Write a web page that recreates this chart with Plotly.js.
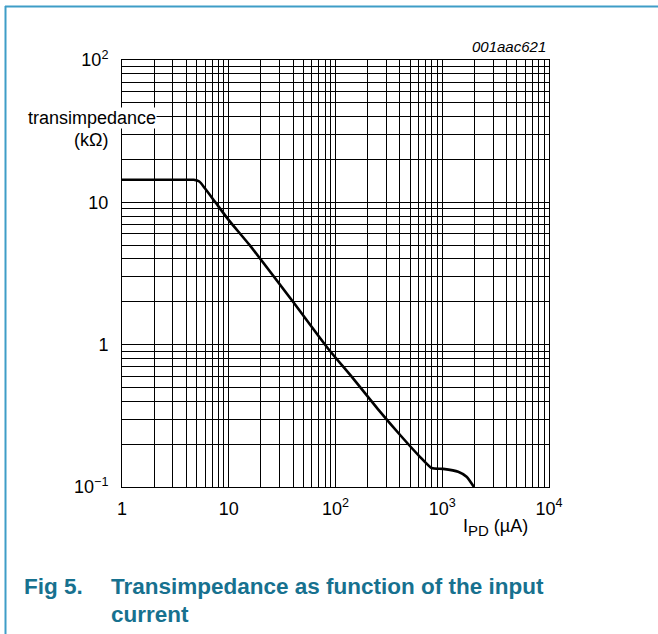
<!DOCTYPE html>
<html>
<head>
<meta charset="utf-8">
<script src="https://cdn.plot.ly/plotly-3.0.1.min.js"></script>
<style>
html,body{margin:0;padding:0;background:#fff;}
#chart{width:658px;height:634px;}
</style>
</head>
<body>
<div id="chart"></div>
<script>
// Input current I_PD (µA)
const currentUA = [1, 2, 3, 4, 4.7, 5.3, 6, 7.5, 10, 15.7, 40, 85, 146, 260, 405, 618, 795, 1020, 1410, 1690, 1980];
// Transimpedance (kΩ)
const transimpedanceK = [14.4, 14.4, 14.4, 14.4, 14.4, 14.0, 12.5, 10.0, 7.5, 5.0, 2.0, 0.94, 0.58, 0.34, 0.231, 0.163, 0.136, 0.134, 0.128, 0.118, 0.1];

const xTickVals = [1, 10, 100, 1000, 10000];
const xTickText = ['1', '10', '10<sup>2</sup>', '10<sup>3</sup>', '10<sup>4</sup>'];
const yTickVals = [0.1, 1, 10, 100];
const yTickText = ['10<sup>−1</sup>', '1', '10', '10<sup>2</sup>'];

const FONT = 'Liberation Sans, Arial, sans-serif';
const L = 122, R = 109, T = 60, B = 147, W = 658, H = 634;
const PW = W - L - R, PH = H - T - B;
const px = v => (v - L) / PW;
const py = v => (H - B - v) / PH;
const frameColor = '#3f9dc7';
const titleColor = '#17718f';

const trace = {
  x: currentUA, y: transimpedanceK,
  type: 'scatter', mode: 'lines',
  line: {color: '#000', width: 2.6, shape: 'spline', smoothing: 0.6},
  hoverinfo: 'skip'
};

const gridMinor = {dtick: 'D1', showgrid: true, gridcolor: '#000', gridwidth: 1, ticks: ''};

const layout = {
  width: W, height: H,
  margin: {l: L, r: R, t: T, b: B, pad: 0},
  paper_bgcolor: '#fff', plot_bgcolor: '#fff',
  showlegend: false,
  font: {family: FONT, size: 18, color: '#000'},
  xaxis: {
    type: 'log', range: [0, 4], tickvals: xTickVals, ticktext: xTickText,
    showgrid: true, gridcolor: '#000', gridwidth: 1,
    minor: gridMinor,
    showline: true, mirror: true, linecolor: '#000', linewidth: 1,
    ticks: '', ticklabelstandoff: 5, zeroline: false,
    tickfont: {family: FONT, size: 18, color: '#000'}
  },
  yaxis: {
    type: 'log', range: [-1, 2], tickvals: yTickVals, ticktext: yTickText,
    showgrid: true, gridcolor: '#000', gridwidth: 1,
    minor: gridMinor,
    showline: true, mirror: true, linecolor: '#000', linewidth: 1,
    ticks: '', ticklabelstandoff: 9, zeroline: false,
    tickfont: {family: FONT, size: 18, color: '#000'}
  },
  shapes: [
    {type: 'line', xref: 'paper', yref: 'paper', x0: px(5), x1: px(660), y0: py(6.5), y1: py(6.5),
     line: {color: frameColor, width: 2}},
    {type: 'line', xref: 'paper', yref: 'paper', x0: px(5.5), x1: px(5.5), y0: py(6), y1: py(636),
     line: {color: frameColor, width: 2}}
  ],
  annotations: [
    {xref: 'paper', yref: 'paper', x: px(548), y: py(47), xanchor: 'right', yanchor: 'middle',
     text: '<i>001aac621</i>', showarrow: false, font: {family: FONT, size: 15, color: '#000'}},
    {xref: 'paper', yref: 'paper', x: px(157), y: py(118), xanchor: 'right', yanchor: 'middle',
     text: 'transimpedance', showarrow: false, bgcolor: '#fff', borderpad: 0,
     font: {family: FONT, size: 18, color: '#000'}},
    {xref: 'paper', yref: 'paper', x: px(91), y: py(140), xanchor: 'center', yanchor: 'middle',
     text: '(kΩ)', showarrow: false, font: {family: FONT, size: 18, color: '#000'}},
    {xref: 'paper', yref: 'paper', x: px(495), y: py(527), xanchor: 'center', yanchor: 'middle',
     text: 'I<sub><span style="font-size:15px">PD</span></sub> (µA)', showarrow: false,
     font: {family: FONT, size: 18, color: '#000'}},
    {xref: 'paper', yref: 'paper', x: px(22), y: py(586), xanchor: 'left', yanchor: 'middle',
     text: '<b>Fig 5.</b>', showarrow: false, font: {family: FONT, size: 22.5, color: titleColor}},
    {xref: 'paper', yref: 'paper', x: px(109), y: py(586), xanchor: 'left', yanchor: 'middle',
     text: '<b>Transimpedance as function of the input</b>', showarrow: false,
     font: {family: FONT, size: 22.5, color: titleColor}},
    {xref: 'paper', yref: 'paper', x: px(109), y: py(614), xanchor: 'left', yanchor: 'middle',
     text: '<b>current</b>', showarrow: false, font: {family: FONT, size: 22.5, color: titleColor}}
  ]
};

Plotly.newPlot('chart', [trace], layout, {displayModeBar: false, staticPlot: true});
</script>
</body>
</html>
